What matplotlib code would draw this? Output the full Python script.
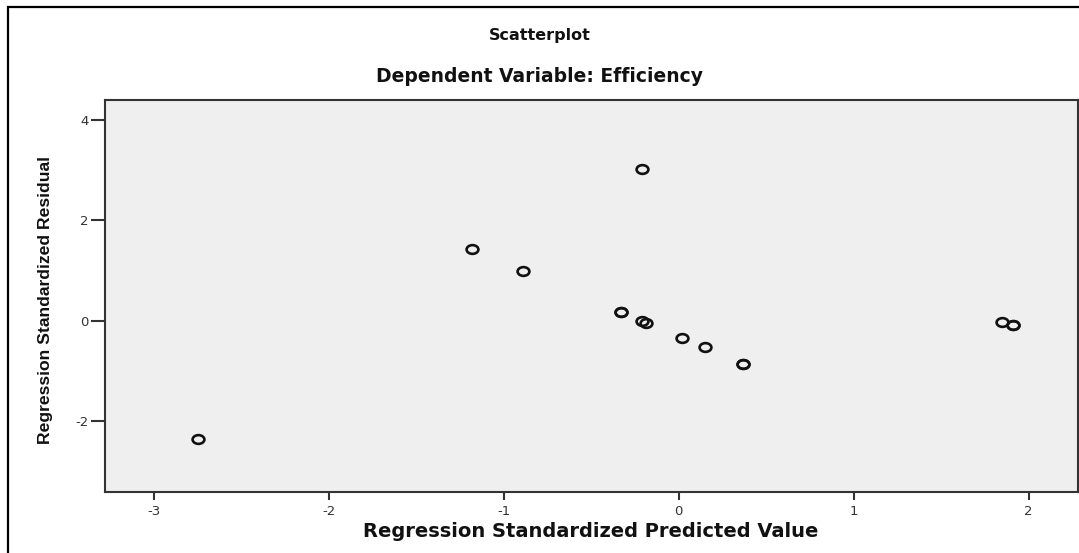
import matplotlib
matplotlib.use('Agg')
import matplotlib.pyplot as plt
from matplotlib.patches import Rectangle
from matplotlib.path import Path
from matplotlib.transforms import Affine2D

plt.rcParams['font.family'] = ['DejaVu Sans']
plt.rcParams['axes.unicode_minus'] = False

# 数据
pred = [-2.75, -1.18, -0.89, -0.21, -0.33, -0.33, -0.21, -0.19,
        0.02, 0.15, 0.37, 0.37, 1.85, 1.91, 1.91]
resid = [-2.36, 1.42, 1.00, 3.02, 0.17, 0.17, -0.01, -0.04,
         -0.35, -0.53, -0.86, -0.86, -0.02, -0.08, -0.08]
xticks = [-3, -2, -1, 0, 1, 2]
yticks = [-2, 0, 2, 4]

fig = plt.figure(figsize=(10.79, 5.53), dpi=100)
ax = fig.add_axes([0.0973, 0.1098, 0.9014, 0.7094])
ax.set_facecolor('#efefef')

# 横向拉长的圆圈
ell = Path.unit_circle().transformed(Affine2D().scale(1.35, 1.0))
ax.plot(pred, resid, marker=ell, ls='none', ms=8.5, mfc='none', mec='#111111', mew=1.9)

ax.set_xlim(-3.28, 2.28)
ax.set_ylim(-3.42, 4.4)
ax.set_xticks(xticks)
ax.set_yticks(yticks)
ax.tick_params(axis='x', length=6, width=1.5, color='#333333', labelsize=9.5, labelcolor='#333333', pad=3)
ax.tick_params(axis='y', length=10, width=1.5, color='#333333', labelsize=9.5, labelcolor='#333333', pad=2)
for s in ax.spines.values():
    s.set_color('#333333')
    s.set_linewidth(1.5)

fig.text(0.5477, 0.038, 'Regression Standardized Predicted Value', ha='center', va='center',
         fontsize=14, fontweight='bold', color='#111111')
fig.text(0.042, 0.457, 'Regression Standardized Residual', rotation=90, ha='center', va='center',
         fontsize=12.6, fontweight='bold', family='Liberation Sans', color='#111111')

fig.text(0.5, 0.936, 'Scatterplot', ha='center', va='center', fontsize=11.5, fontweight='bold', color='#111111')
fig.text(0.5, 0.862, 'Dependent Variable: Efficiency', ha='center', va='center', fontsize=13.5,
         fontweight='bold', color='#111111')

# 外框
fig.add_artist(Rectangle((7.5 / 1079, -0.1), 1.2, 1.1 - 7.5 / 553, transform=fig.transFigure,
                         fill=False, lw=1.6, ec='black', clip_on=False))

fig.savefig('out.png', dpi=100)
